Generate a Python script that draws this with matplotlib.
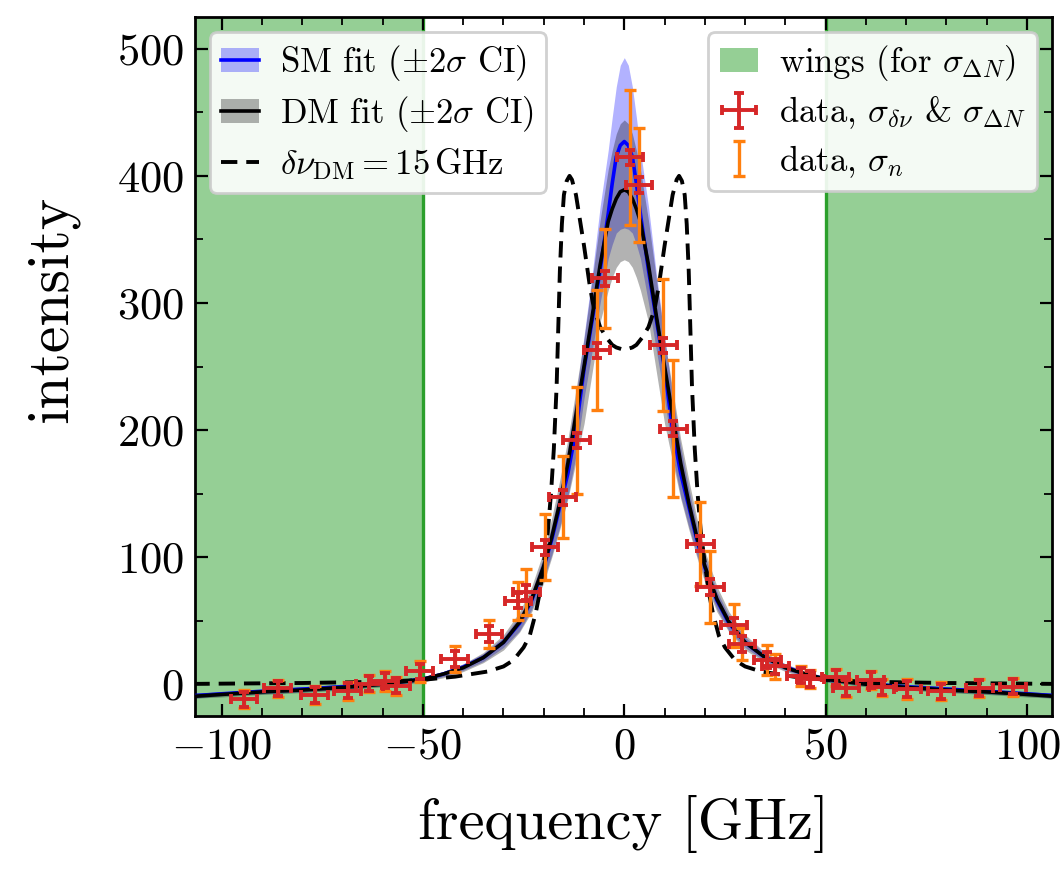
import matplotlib
matplotlib.use('Agg')
import matplotlib.pyplot as plt
from matplotlib.lines import Line2D
from matplotlib.patches import Patch
from matplotlib.ticker import MultipleLocator

plt.rcParams['font.family'] = 'serif'
plt.rcParams['font.serif'] = ['cmr10']
plt.rcParams['mathtext.fontset'] = 'cm'
plt.rcParams['axes.formatter.use_mathtext'] = True

# measured spectrum
freq = [-94.4, -86.1, -76.9, -68.7, -63.3, -59.5, -56.6, -50.8, -42.1, -33.6,
        -26.4, -24.3, -19.7, -15.3, -11.8, -6.8, -4.8, 1.4, 3.7, 9.7,
        12.2, 18.9, 21.4, 27.2, 29.2, 35.5, 37.5, 43.8, 46.2, 52.5,
        55.0, 61.2, 64.1, 70.3, 78.6, 88.2, 96.5]
inten = [-11.7, -3.3, -8.5, -5.1, 0.6, 2.8, -1.2, 10.1, 19.9, 39.6,
         65.8, 72.3, 107.8, 147.2, 191.9, 262.8, 319.3, 414.7, 392.8, 266.7,
         201.1, 110.5, 76.5, 46.5, 31.7, 19.0, 14.0, 6.7, 4.1, 5.4,
         -3.0, 3.3, -2.5, -3.8, -5.6, -3.0, -2.0]
sig_n = [7, 7, 7, 7, 7, 8, 7, 8, 10, 11,
         15, 18, 26, 32, 42, 47, 39, 53, 45, 52,
         54, 33, 28, 17, 12.5, 12, 10, 8, 7, 7,
         7, 7, 7, 8, 7, 7, 7]
sig_dnu = 3.3   # GHz
sig_dN = 6.0

# fitted curves
fit_x = [-107, -100, -90, -80, -70, -60, -50, -45, -40, -35, -30, -26, -23, -20, -18, -16,
         -14, -12, -10, -8, -6, -4, -3, -2, -1, 0, 1, 2, 3, 4, 6, 8, 10, 12, 14, 16, 18, 20,
         23, 26, 30, 35, 40, 45, 50, 60, 70, 80, 90, 100, 107]
sm_fit = [-9, -7.5, -5.5, -3.8, -2, 0.5, 4, 8, 13.5, 21, 33, 48, 66, 92, 114, 140, 166, 200,
          248, 286, 326, 370, 394, 415, 424, 427, 424, 415, 394, 370, 326, 286, 248, 200, 166,
          140, 114, 92, 66, 48, 33, 21, 13.5, 8, 4, 0.5, -2, -3.8, -5.5, -7.5, -9]
sm_hi = [-7, -6, -4, -2, 0, 2, 6, 10, 16, 24, 37, 54, 73, 101, 125, 154, 187, 227, 274, 322,
         376, 420, 446, 470, 487, 493, 487, 470, 446, 420, 376, 322, 274, 227, 187, 154, 125,
         101, 73, 54, 37, 24, 16, 10, 6, 2, 0, -2, -4, -6, -7]
sm_lo = [-11, -9, -7.5, -6, -4, -1, 2, 6, 11, 18, 29, 42, 59, 83, 102, 124, 148, 180, 225,
         262, 300, 335, 346, 355, 358, 359, 358, 355, 346, 335, 300, 262, 225, 180, 148, 124,
         102, 83, 59, 42, 29, 18, 11, 6, 2, -1, -4, -6, -7.5, -9, -11]
dm_fit = [-9.5, -8, -6, -4.5, -2.5, 0, 4, 8, 13, 21, 33, 49, 67, 93, 116, 143, 174, 212, 250,
          289, 330, 364, 374, 382, 387.5, 389, 387.5, 382, 374, 364, 330, 289, 250, 212, 174,
          143, 116, 93, 67, 49, 33, 21, 13, 8, 4, 0, -2.5, -4.5, -6, -8, -9.5]
dm_hi = [-7, -6, -4, -2, 0, 2, 6, 10, 16, 25, 39, 57, 77, 105, 131, 161, 193, 232, 272, 318,
         365, 405, 420, 433, 441, 444, 441, 433, 420, 405, 365, 318, 272, 232, 193, 161, 131,
         105, 77, 57, 39, 25, 16, 10, 6, 2, 0, -2, -4, -6, -7]
dm_lo = [-11, -10, -8, -6.5, -4.5, -2, 2, 5, 10, 17, 27, 41, 57, 80, 100, 122, 146, 175, 205,
         245, 285, 310, 320, 328, 332.5, 334, 332.5, 328, 320, 310, 285, 245, 205, 175, 146,
         122, 100, 80, 57, 41, 27, 17, 10, 5, 2, -2, -4.5, -6.5, -8, -10, -11]

# DM model with dnu = 15 GHz
dash_x = [-107, -80, -60, -50, -42, -34, -30, -27.5, -25, -23.5, -22, -21, -20, -19, -18.2,
          -17.5, -16.8, -16.4, -16, -15.5, -15, -14.3, -13.6, -13, -12, -11, -10, -8.5, -7.5,
          -6, -4.5, -3, -2, 0, 2, 3, 4.5, 6, 7.5, 8.5, 10, 11, 12, 13, 13.6, 14.3, 15, 15.5,
          16, 16.4, 16.8, 17.5, 18.2, 19, 20, 21, 22, 23.5, 25, 27.5, 30, 34, 42, 50, 60, 80, 107]
dash_y = [0.3, 1, 2, 3.5, 6, 10, 14, 19, 29, 38, 56, 72, 95, 120, 150, 185, 235, 280, 325,
          362, 385, 396, 400, 397, 385, 365, 345, 312, 295, 281, 273, 267, 265, 263, 265, 267,
          273, 281, 295, 312, 345, 365, 385, 397, 400, 396, 385, 362, 325, 280, 235, 185, 150,
          120, 95, 72, 56, 38, 29, 19, 14, 10, 6, 3.5, 2, 1, 0.3]

wing_edge = 50

fig = plt.figure(figsize=(10.61, 8.84), dpi=100)
ax = fig.add_axes([0.1838, 0.19, 0.8077, 0.7908])

ax.axvspan(-120, -wing_edge, color='tab:green', alpha=0.5, lw=0, zorder=0)
ax.axvspan(wing_edge, 120, color='tab:green', alpha=0.5, lw=0, zorder=0)
ax.axvline(-wing_edge, color='tab:green', lw=2.4, zorder=1)
ax.axvline(wing_edge, color='tab:green', lw=2.4, zorder=1)

ax.fill_between(fit_x, sm_lo, sm_hi, color='blue', alpha=0.3, lw=0, zorder=2)
ax.fill_between(fit_x, dm_lo, dm_hi, color='black', alpha=0.3, lw=0, zorder=2.2)
ax.plot(fit_x, sm_fit, color='blue', lw=2.6, zorder=3)
ax.plot(fit_x, dm_fit, color='black', lw=2.6, zorder=3.2)
ax.plot(dash_x, dash_y, color='black', lw=2.8, ls=(0, (4.2, 2.3)), zorder=3.1)

eb_n = ax.errorbar(freq, inten, yerr=sig_n, fmt='none', ecolor='tab:orange',
                   elinewidth=2.4, capsize=4, capthick=2.4, zorder=4)
eb_r = ax.errorbar(freq, inten, xerr=sig_dnu, yerr=sig_dN, fmt='none', ecolor='tab:red',
                   elinewidth=2.8, capsize=3.5, capthick=2.8, zorder=5)

ax.set_xlim(-106.6, 106.2)
ax.set_ylim(-25, 525)
ax.xaxis.set_major_locator(MultipleLocator(50))
ax.xaxis.set_minor_locator(MultipleLocator(10))
ax.yaxis.set_major_locator(MultipleLocator(100))
ax.yaxis.set_minor_locator(MultipleLocator(50))
ax.tick_params(which='both', direction='in', top=True, right=True, labelsize=32, pad=8)
ax.tick_params(which='major', length=9, width=1.6)
ax.tick_params(which='minor', length=5.5, width=1.3)
for s in ax.spines.values():
    s.set_linewidth(2)

ax.set_xlabel('frequency [GHz]', fontsize=42, labelpad=20)
ax.set_ylabel('intensity', fontsize=43)
ax.yaxis.set_label_coords(-0.135, 0.582)

h_sm = (Patch(facecolor='blue', alpha=0.3, lw=0), Line2D([], [], color='blue', lw=2.6))
h_dm = (Patch(facecolor='black', alpha=0.3, lw=0), Line2D([], [], color='black', lw=2.6))
h_dash = Line2D([], [], color='black', lw=2.8, ls=(0, (4.2, 2.3)))
leg1 = ax.legend([h_sm, h_dm, h_dash],
                 [r'SM fit ($\pm2\sigma$ CI)',
                  r'DM fit ($\pm2\sigma$ CI)',
                  r'$\delta\nu_{\mathrm{DM}} = 15\,\mathrm{GHz}$'],
                 loc='upper left', fontsize=25, handlelength=1.1, handletextpad=0.6,
                 labelspacing=0.33, borderaxespad=0.42, borderpad=0.33,
                 fancybox=True, framealpha=0.9)
leg1.get_frame().set_linewidth(2)
ax.add_artist(leg1)

h_wing = Patch(facecolor='tab:green', alpha=0.5, lw=0)
leg2 = ax.legend([h_wing, eb_r, eb_n],
                 [r'wings (for $\sigma_{\Delta N}$)',
                  r'data, $\sigma_{\delta\nu}$ & $\sigma_{\Delta N}$',
                  r'data, $\sigma_n$'],
                 loc='upper right', fontsize=25, handlelength=1.1, handletextpad=0.6,
                 labelspacing=0.33, borderaxespad=0.42, borderpad=0.33,
                 fancybox=True, framealpha=0.9)
leg2.get_frame().set_linewidth(2)

fig.savefig('out.png', dpi=100)
